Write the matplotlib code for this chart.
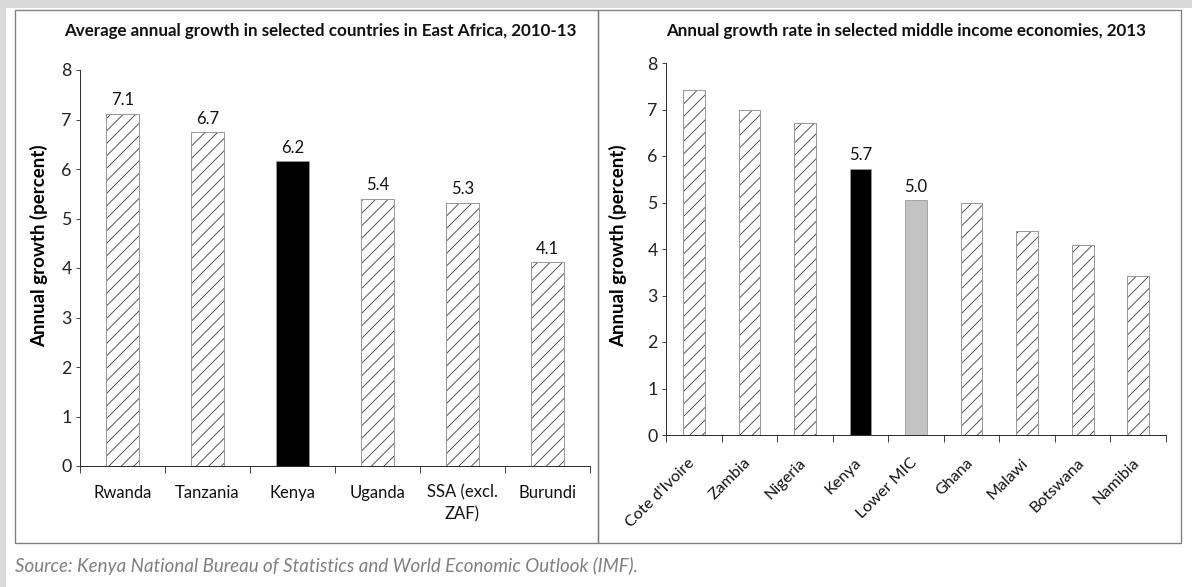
#!/usr/bin/env python3
"""
East Africa growth comparison - two bar panels
"""

import numpy as np
import matplotlib
matplotlib.use('Agg')
import matplotlib.pyplot as plt
from matplotlib.patches import Rectangle
from matplotlib.transforms import ScaledTranslation

plt.rcParams['font.family'] = ['Lato', 'DejaVu Sans']
plt.rcParams['hatch.linewidth'] = 0.8

# left panel data
ea_countries = ['Rwanda', 'Tanzania', 'Kenya', 'Uganda', 'SSA (excl.\nZAF)', 'Burundi']
ea_growth = [7.12, 6.74, 6.16, 5.4, 5.32, 4.12]
ea_labels = ['7.1', '6.7', '6.2', '5.4', '5.3', '4.1']
ea_style = ['hatch', 'hatch', 'black', 'hatch', 'hatch', 'hatch']

# right panel data
mic_countries = ['Cote d\'Ivoire', 'Zambia', 'Nigeria', 'Kenya', 'Lower MIC',
                 'Ghana', 'Malawi', 'Botswana', 'Namibia']
mic_growth = [7.42, 7.0, 6.72, 5.73, 5.06, 5.0, 4.38, 4.08, 3.41]
mic_labels = ['', '', '', '5.7', '5.0', '', '', '', '']
mic_style = ['hatch', 'hatch', 'hatch', 'black', 'grey', 'hatch', 'hatch', 'hatch', 'hatch']

DPI = 75
fig = plt.figure(figsize=(1192 / DPI, 587 / DPI), dpi=DPI)
fig.patch.set_facecolor('#d9d9d9')

# white page area and panel frames
fig.patches.append(Rectangle((6 / 1192, 0), 1, 1 - 8 / 587, transform=fig.transFigure,
                             facecolor='white', edgecolor='none', zorder=-5))
for x0, x1 in [(15, 598), (598, 1181)]:
    fig.patches.append(Rectangle((x0 / 1192, 1 - 543 / 587), (x1 - x0) / 1192, 533 / 587,
                                 transform=fig.transFigure, facecolor='none',
                                 edgecolor='#7f7f7f', linewidth=1.3, zorder=-4))


def draw_panel(ax, names, values, labels, styles, title, title_x, rotate, ylab_xy):
    n = len(names)
    x = np.arange(n)
    ax.patch.set_alpha(0)
    for xi, v, s in zip(x, values, styles):
        if s == 'hatch':
            ax.bar(xi, v, width=0.39, color='white', edgecolor='#3a3a3a', hatch='//', linewidth=0)
            ax.bar(xi, v, width=0.39, fill=False, edgecolor='#9a9a9a', linewidth=1.0)
        elif s == 'black':
            ax.bar(xi, v, width=0.39, color='black', edgecolor='#9a9a9a', linewidth=0.8)
        else:
            ax.bar(xi, v, width=0.39, color='#c3c3c3', edgecolor='#9a9a9a', linewidth=0.8)
    for xi, v, lab in zip(x, values, labels):
        if lab:
            ax.annotate(lab, xy=(xi, v), xytext=(0, 5), textcoords='offset points',
                        ha='center', va='bottom', fontsize=16, color='#111111')

    ax.set_xlim(-0.5, n - 0.5)
    ax.set_ylim(0, 8)
    ax.set_yticks(range(0, 9))
    ax.tick_params(axis='y', length=4, width=0.8, labelsize=17, pad=4, colors='#222222')
    ax.set_xticks(x)
    ax.set_xticks(np.arange(n + 1) - 0.5, minor=True)
    ax.tick_params(axis='x', which='major', length=0, labelsize=16, pad=18, colors='#111111')
    ax.tick_params(axis='x', which='minor', length=7, width=0.8, color='#222222')
    if rotate:
        ax.set_xticklabels(names, rotation=45, ha='right', rotation_mode='anchor', fontsize=15.5)
        ax.tick_params(axis='x', which='major', pad=20)
        shift = ScaledTranslation(-6 / DPI, 0, fig.dpi_scale_trans)
        for t in ax.get_xticklabels():
            t.set_transform(t.get_transform() + shift)
    else:
        ax.set_xticklabels(names, linespacing=1.45)
    for sp in ['top', 'right']:
        ax.spines[sp].set_visible(False)
    for sp in ['left', 'bottom']:
        ax.spines[sp].set_color('#222222')
        ax.spines[sp].set_linewidth(0.9)
    ax.set_ylabel('Annual growth (percent)', fontsize=18, fontweight='bold')
    ax.yaxis.set_label_coords(*ylab_xy)
    fig.text(title_x, 1 - 31 / 587, title, ha='center', va='center',
             fontsize=16.3, fontweight='bold', color='#111111')


ax1 = fig.add_axes([80 / 1192, 1 - 466 / 587, 510 / 1192, 396 / 587])
draw_panel(ax1, ea_countries, ea_growth, ea_labels, ea_style,
           'Average annual growth in selected countries in East Africa, 2010-13', 320 / 1192, False,
           (-0.063, 0.556))

ax2 = fig.add_axes([666 / 1192, 1 - 435 / 587, 500 / 1192, 372 / 587])
draw_panel(ax2, mic_countries, mic_growth, mic_labels, mic_style,
           'Annual growth rate in selected middle income economies, 2013', 906 / 1192, True,
           (-0.078, 0.51))

fig.text(15 / 1192, 1 - 566 / 587,
         'Source: Kenya National Bureau of Statistics and World Economic Outlook (IMF).',
         ha='left', va='center', fontsize=18, style='italic', color='#7f7f7f')

plt.savefig('out.png', dpi=DPI, facecolor=fig.get_facecolor())
